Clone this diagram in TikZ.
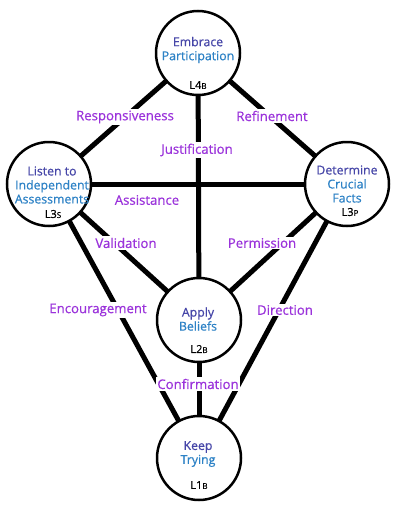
\documentclass[tikz,border=0pt]{standalone}
\usepackage{fontspec}
\setmainfont{Open Sans}[FakeBold=0.6]
\definecolor{nameA}{HTML}{4646A8}
\definecolor{nameB}{HTML}{2D82C6}
\definecolor{lbl}{HTML}{9B33DB}
\newcommand{\sm}[1]{{\fontsize{8}{8}\selectfont #1}}
\begin{document}
\begin{tikzpicture}[x=1pt,y=-1pt,
  circ/.style={circle,draw=black,line width=2.5pt,fill=white,minimum size=84pt,inner sep=0pt},
  edge/.style={line width=5pt},
  nm/.style={align=center,font=\fontsize{12.3}{14}\selectfont,inner sep=0pt},
  code/.style={font=\fontsize{11}{12}\selectfont,inner sep=0pt},
  rel/.style={text=lbl,fill=white,font=\fontsize{13.2}{14}\selectfont,inner sep=1.5pt}]
\useasboundingbox (0,0) rectangle (400,506);
% circles (positions)
\coordinate (ct) at (198,53);
\coordinate (cl) at (49,184);
\coordinate (cr) at (347,184);
\coordinate (cm) at (199,320);
\coordinate (cb) at (199,458);
% edges
\draw[edge] (ct) -- (cl);
\draw[edge] (ct) -- (cr);
\draw[edge] (ct) -- (cm);
\draw[edge] (cl) -- (cr);
\draw[edge] (cl) -- (cm);
\draw[edge] (cr) -- (cm);
\draw[edge] (cl) -- (cb);
\draw[edge] (cr) -- (cb);
\draw[edge] (cm) -- (cb);
% circles
\node[circ] (top) at (ct) {};
\node[circ] (left) at (cl) {};
\node[circ] (right) at (cr) {};
\node[circ] (mid) at (cm) {};
\node[circ] (bot) at (cb) {};
% names
\node[nm] (topn) at (198,50) {\textcolor{nameA}{Embrace}\\\textcolor{nameB}{Participation}};
\node[code] (topc) at (198,85) {L4\sm{B}};
\node[nm] (leftn) at (52,185) {\textcolor{nameA}{Listen to}\\\textcolor{nameB}{Independent}\\\textcolor{nameB}{Assessments}};
\node[code] (leftc) at (53,214) {L3\sm{S}};
\node[nm] (rightn) at (347,184) {\textcolor{nameA}{Determine}\\\textcolor{nameB}{Crucial}\\\textcolor{nameB}{Facts}};
\node[code] (rightc) at (350,212) {L3\sm{P}};
\node[nm] (midn) at (198,319) {\textcolor{nameA}{Apply}\\\textcolor{nameB}{Beliefs}};
\node[code] (midc) at (199,349) {L2\sm{B}};
\node[nm] (botn) at (198,454) {\textcolor{nameA}{Keep}\\\textcolor{nameB}{Trying}};
\node[code] (botc) at (199,485) {L1\sm{B}};
% relation labels
\node[rel] (r1) at (125,117) {Responsiveness};
\node[rel] (r2) at (272,116) {Refinement};
\node[rel] (r3) at (197,150) {Justification};
\node[rel] (r4) at (147,200) {Assistance};
\node[rel] (r5) at (126,243) {Validation};
\node[rel] (r6) at (262,243) {Permission};
\node[rel] (r7) at (98,310) {Encouragement};
\node[rel] (r8) at (285,310) {Direction};
\node[rel] (r9) at (198,384) {Confirmation};
\end{tikzpicture}
\end{document}
